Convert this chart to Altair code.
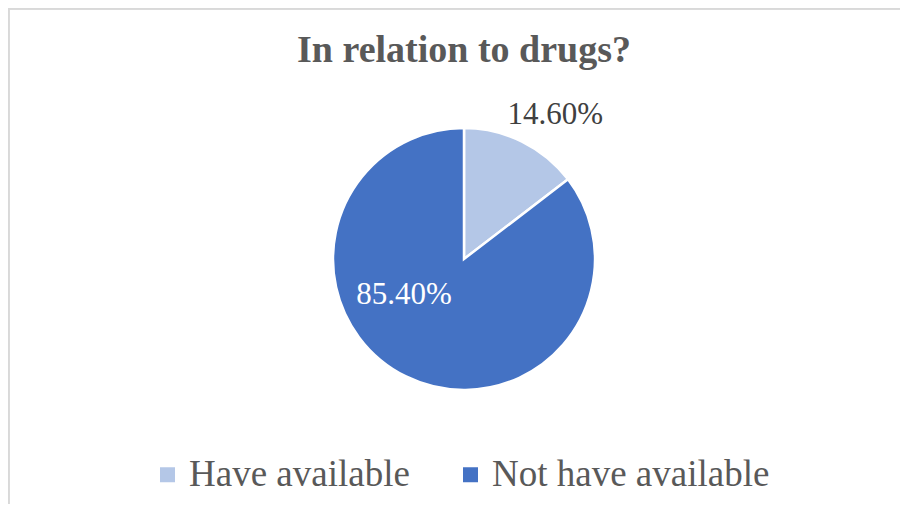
import altair as alt
import pandas as pd

title_text = "In relation to drugs?"
categories = ["Have available", "Not have available"]
values = [14.6, 85.4]
labels = ["14.60%", "85.40%"]
order_idx = [0, 1]
colors = ["#B4C7E7", "#4472C4"]

df = pd.DataFrame({"category": categories, "value": values, "label": labels, "idx": order_idx})

CX, CY, R = 456, 251, 131

pie = alt.Chart(df).mark_arc(outerRadius=R, stroke="white", strokeWidth=2.5).encode(
    x=alt.value(CX),
    y=alt.value(CY),
    theta=alt.Theta("value:Q", stack=True),
    order=alt.Order("idx:Q"),
    color=alt.Color(
        "category:N",
        scale=alt.Scale(domain=categories, range=colors),
        sort=categories,
        legend=alt.Legend(
            title=None,
            orient="none",
            direction="horizontal",
            legendX=141,
            legendY=448,
            symbolType="square",
            symbolSize=225,
            symbolStrokeWidth=0,
            labelFont="Liberation Serif",
            labelFontSize=37,
            labelColor="#595959",
            labelOffset=3,
            columnPadding=42,
            labelLimit=400,
        ),
    ),
)


def label_layer(i, radius, color, dx, dy):
    return (
        alt.Chart(df)
        .transform_window(cum="sum(value)", sort=[alt.SortField("idx")])
        .transform_calculate(mid="datum.cum - datum.value / 2")
        .transform_filter(alt.datum.idx == i)
        .mark_text(radius=radius, font="Liberation Serif", fontSize=31, color=color, dx=dx, dy=dy)
        .encode(
            x=alt.value(CX),
            y=alt.value(CY),
            theta=alt.Theta("mid:Q", scale=alt.Scale(domain=[0, 100]), stack=None),
            text="label:N",
        )
    )


t1 = label_layer(0, 170, "#404040", 16, 8)
t2 = label_layer(1, 70, "white", -29, -27)

title = alt.Chart(pd.DataFrame({"t": [title_text]})).mark_text(
    font="Liberation Serif", fontSize=38, fontWeight="bold", color="#595959",
    align="center", baseline="alphabetic",
).encode(x=alt.value(456), y=alt.value(54), text="t:N")

border_top = alt.Chart(df).mark_rule(color="#d9d9d9", strokeWidth=1.5).encode(
    x=alt.value(0), x2=alt.value(892), y=alt.value(1)
)
border_left = alt.Chart(df).mark_rule(color="#d9d9d9", strokeWidth=1.5).encode(
    x=alt.value(1), y=alt.value(0), y2=alt.value(496)
)

chart = (
    alt.layer(border_top, border_left, pie, t1, t2, title)
    .resolve_scale(theta="independent")
    .properties(
        width=892,
        height=496,
        autosize=alt.AutoSizeParams(type="none"),
        padding=0,
    )
    .configure_view(stroke=None)
    .configure(background="white")
)

chart.save("out.html", embed_options={"renderer": "svg", "actions": False})
